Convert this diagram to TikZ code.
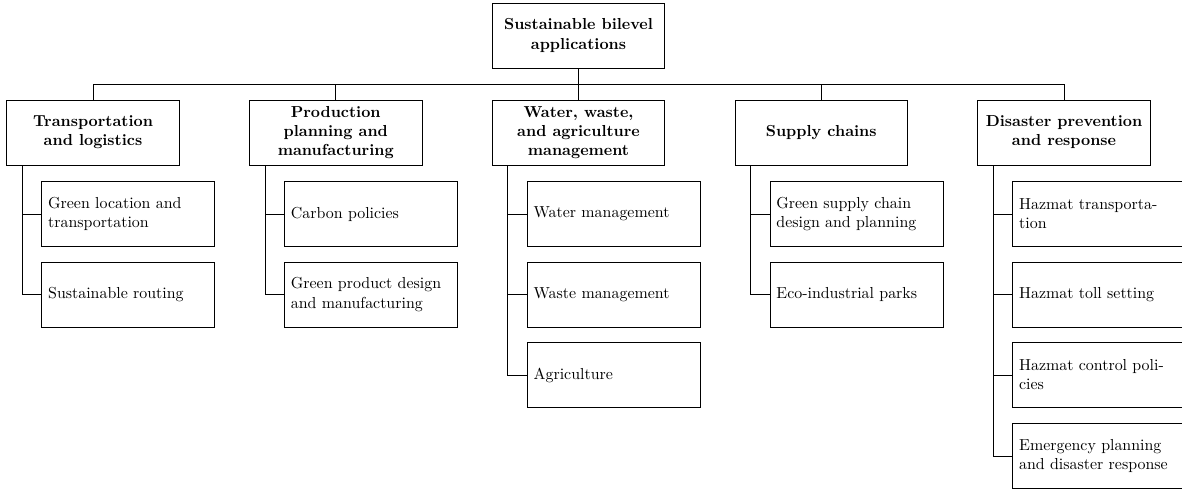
\documentclass[tikz,border=0pt]{standalone}
\begin{document}
\begin{tikzpicture}[x=0.628pt,y=-0.628pt, line width=0.5pt,
  box/.style={draw, rectangle, minimum height=40.8pt, inner sep=0pt},
  topbox/.style={box, minimum width=108.3pt, align=center, font=\bfseries},
  leaf/.style={box, minimum width=108.6pt, text width=100.6pt, align=left}]
\useasboundingbox (0,0) rectangle (1182,493);
% root
\node[topbox] (root) at (578.5,35.5) {Sustainable bilevel\\applications};
% level 1
\node[topbox] (t) at (93,132.5) {Transportation\\and logistics};
\node[topbox] (p) at (335.75,132.5) {Production\\planning and\\manufacturing};
\node[topbox] (w) at (578.5,132.5) {Water, waste,\\and agriculture\\management};
\node[topbox] (s) at (821.25,132.5) {Supply chains};
\node[topbox] (d) at (1064,132.5) {Disaster prevention\\and response};
% children
\node[leaf] (t1) at (128.25,214) {Green location and\\transportation};
\node[leaf] (t2) at (128.25,294.5) {Sustainable routing};
\node[leaf] (p1) at (371,214) {Carbon policies};
\node[leaf] (p2) at (371,294.5) {Green product design\\and manufacturing};
\node[leaf] (w1) at (613.75,214) {Water management};
\node[leaf] (w2) at (613.75,294.5) {Waste management};
\node[leaf] (w3) at (613.75,375) {Agriculture};
\node[leaf] (s1) at (856.5,214) {Green supply chain\\design and planning};
\node[leaf] (s2) at (856.5,294.5) {Eco-industrial parks};
\node[leaf] (d1) at (1099.25,214) {Hazmat transporta-\\tion};
\node[leaf] (d2) at (1099.25,294.5) {Hazmat toll setting};
\node[leaf] (d3) at (1099.25,375) {Hazmat control poli-\\cies};
\node[leaf] (d4) at (1099.25,456) {Emergency planning\\and disaster response};
% bus
\coordinate (bus) at (0,84);
\draw (root.south) -- (root.south |- bus);
\draw (t.north) -- (t.north |- bus) -- (d.north |- bus) -- (d.north);
\draw (p.north) -- (p.north |- bus);
\draw (w.north) -- (w.north |- bus);
\draw (s.north) -- (s.north |- bus);
% trunks
\coordinate (tt) at ([xshift=10.05pt]t.south west);
\coordinate (pt) at ([xshift=10.05pt]p.south west);
\coordinate (wt) at ([xshift=10.05pt]w.south west);
\coordinate (st) at ([xshift=10.05pt]s.south west);
\coordinate (dt) at ([xshift=10.05pt]d.south west);
\draw (tt) |- (t2.west);
\draw (t1.west) -- (t1.west -| tt);
\draw (pt) |- (p2.west);
\draw (p1.west) -- (p1.west -| pt);
\draw (wt) |- (w3.west);
\draw (w1.west) -- (w1.west -| wt);
\draw (w2.west) -- (w2.west -| wt);
\draw (st) |- (s2.west);
\draw (s1.west) -- (s1.west -| st);
\draw (dt) |- (d4.west);
\draw (d1.west) -- (d1.west -| dt);
\draw (d2.west) -- (d2.west -| dt);
\draw (d3.west) -- (d3.west -| dt);
\end{tikzpicture}
\end{document}
